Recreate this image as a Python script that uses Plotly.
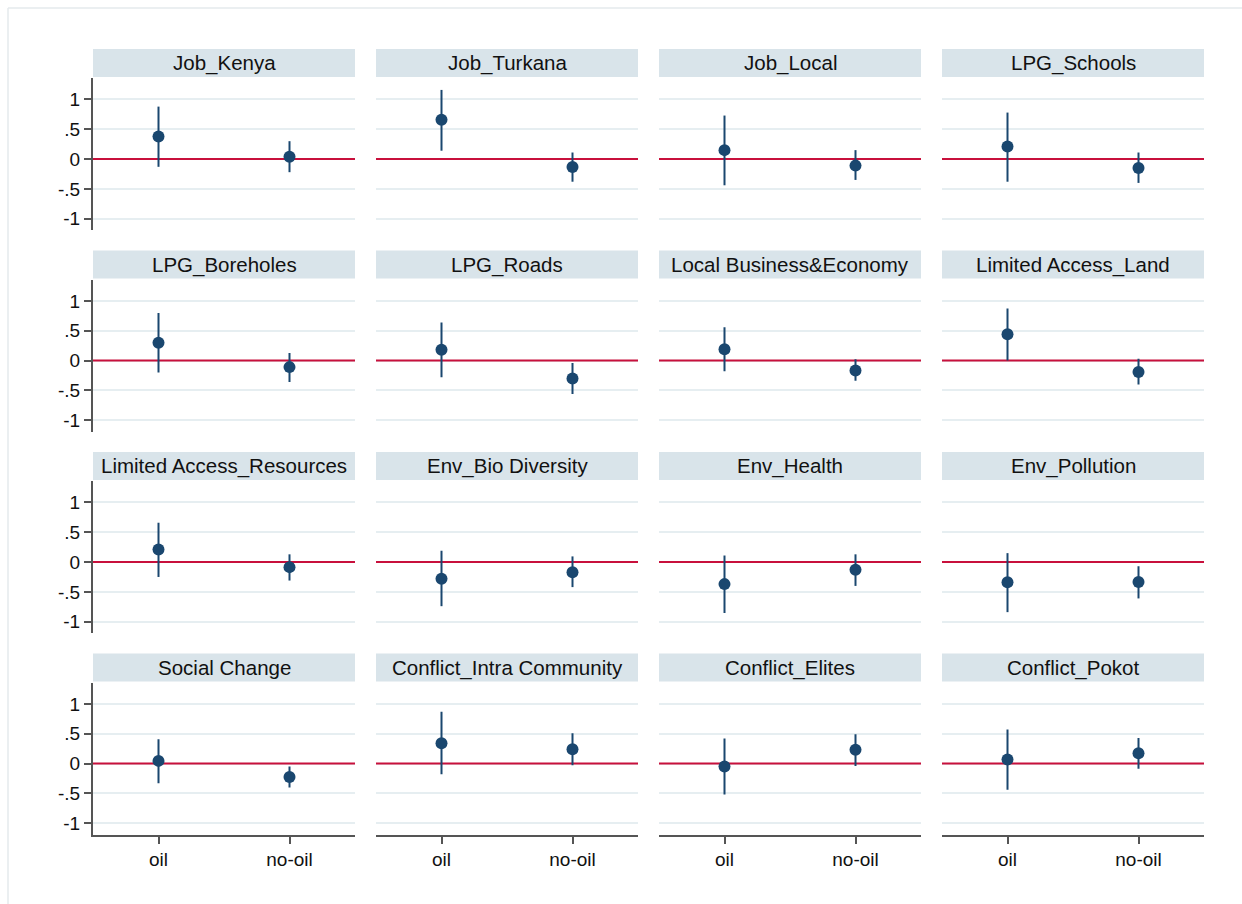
import plotly.graph_objects as go

# Panel titles, in row-major order (4 x 4 grid)
panels = [
    "Job_Kenya", "Job_Turkana", "Job_Local", "LPG_Schools",
    "LPG_Boreholes", "LPG_Roads", "Local Business&Economy", "Limited Access_Land",
    "Limited Access_Resources", "Env_Bio Diversity", "Env_Health", "Env_Pollution",
    "Social Change", "Conflict_Intra Community", "Conflict_Elites", "Conflict_Pokot",
]

groups = ["oil", "no-oil"]

# Point estimates and 95% confidence bounds: oil group
oil_est = [0.38, 0.66, 0.15, 0.21,
           0.30, 0.18, 0.19, 0.44,
           0.21, -0.28, -0.37, -0.34,
           0.045, 0.34, -0.05, 0.07]
oil_lo = [-0.13, 0.14, -0.44, -0.38,
          -0.20, -0.28, -0.18, 0.00,
          -0.25, -0.74, -0.855, -0.84,
          -0.33, -0.18, -0.52, -0.44]
oil_hi = [0.88, 1.16, 0.73, 0.78,
          0.80, 0.64, 0.56, 0.875,
          0.66, 0.19, 0.11, 0.15,
          0.41, 0.87, 0.42, 0.57]

# Point estimates and 95% confidence bounds: no-oil group
nooil_est = [0.04, -0.135, -0.11, -0.15,
             -0.11, -0.30, -0.165, -0.19,
             -0.085, -0.17, -0.13, -0.335,
             -0.225, 0.24, 0.23, 0.175]
nooil_lo = [-0.22, -0.38, -0.35, -0.40,
            -0.36, -0.56, -0.34, -0.40,
            -0.31, -0.42, -0.40, -0.61,
            -0.40, -0.03, -0.04, -0.085]
nooil_hi = [0.30, 0.11, 0.15, 0.11,
            0.125, -0.04, 0.02, 0.03,
            0.13, 0.095, 0.13, -0.07,
            -0.05, 0.51, 0.49, 0.43]

ytick_vals = [-1, -0.5, 0, 0.5, 1]
ytick_text = ["-1", "-.5", "0", ".5", "1"]
x_range = [0.5, 2.5]

W, H = 1242, 904
NAVY = "#1a476f"
RED = "#c8103c"
GRID = "#e6eef1"
STRIP = "#d9e4ea"
AXIS = "#555555"
TEXT = "#111111"
FONT = "Liberation Sans, Arial, sans-serif"

# Pixel geometry of the grid
col_left0, col_w, col_step = 93, 262, 283
row_top0, row_h, row_step = 78, 152, 201.5
strip_h = 28

fig = go.Figure()
layout = dict(
    width=W, height=H,
    margin=dict(l=0, r=0, t=0, b=0),
    paper_bgcolor="white", plot_bgcolor="white",
    showlegend=False,
    font=dict(family=FONT, color=TEXT),
)
shapes = []
annotations = []

for i, name in enumerate(panels):
    r, c = divmod(i, 4)
    k = i + 1
    xa = "x" if k == 1 else f"x{k}"
    ya = "y" if k == 1 else f"y{k}"
    xl = "xaxis" if k == 1 else f"xaxis{k}"
    yl = "yaxis" if k == 1 else f"yaxis{k}"

    x0 = col_left0 + c * col_step
    x1 = x0 + col_w
    top = row_top0 + r * row_step
    bot = top + row_h

    est = [oil_est[i], nooil_est[i]]
    lo = [oil_lo[i], nooil_lo[i]]
    hi = [oil_hi[i], nooil_hi[i]]

    # reference line at zero, spanning the full panel width
    fig.add_trace(go.Scatter(
        x=x_range, y=[0, 0], mode="lines", xaxis=xa, yaxis=ya,
        line=dict(color=RED, width=2), hoverinfo="skip",
    ))
    # estimates with confidence intervals
    fig.add_trace(go.Scatter(
        x=[1, 2], y=est, mode="markers", xaxis=xa, yaxis=ya,
        marker=dict(size=12, color=NAVY),
        error_y=dict(type="data", symmetric=False,
                     array=[h - e for h, e in zip(hi, est)],
                     arrayminus=[e - l for e, l in zip(est, lo)],
                     color=NAVY, thickness=2, width=0),
        hoverinfo="skip",
    ))

    bottom_row = r == 3
    left_col = c == 0

    layout[xl] = dict(
        domain=[x0 / W, x1 / W], anchor=ya, range=x_range,
        tickvals=[1, 2], ticktext=groups,
        showticklabels=bottom_row, ticks="outside" if bottom_row else "",
        ticklen=7, tickwidth=1.5, tickcolor=AXIS,
        showline=bottom_row, linecolor=AXIS, linewidth=2,
        showgrid=False, zeroline=False,
        tickfont=dict(size=19, family=FONT, color=TEXT),
    )
    layout[yl] = dict(
        domain=[1 - bot / H, 1 - top / H], anchor=xa, range=[-1.19, 1.36],
        tickvals=ytick_vals, ticktext=ytick_text,
        showticklabels=left_col, ticks="outside" if left_col else "",
        ticklen=7, tickwidth=1.5, tickcolor=AXIS,
        showline=left_col, linecolor=AXIS, linewidth=2,
        showgrid=True, gridcolor=GRID, gridwidth=2, zeroline=False,
        tickfont=dict(size=19, family=FONT, color=TEXT),
    )

    # title strip
    s_top = top - 1 - strip_h
    shapes.append(dict(type="rect", xref="paper", yref="paper",
                       x0=x0 / W, x1=x1 / W,
                       y0=1 - (top - 1) / H, y1=1 - s_top / H,
                       fillcolor=STRIP, line=dict(width=0), layer="below"))
    annotations.append(dict(text=name, xref="paper", yref="paper",
                            x=(x0 + x1) / 2 / W, y=1 - (s_top + strip_h / 2) / H,
                            xanchor="center", yanchor="middle", showarrow=False,
                            font=dict(size=20.5, family=FONT, color=TEXT)))

# faint outer frame of the graph region
shapes.append(dict(type="line", xref="paper", yref="paper",
                   x0=8 / W, x1=1, y0=1 - 8 / H, y1=1 - 8 / H,
                   line=dict(color="#e4eaec", width=1.5), layer="below"))
shapes.append(dict(type="line", xref="paper", yref="paper",
                   x0=8 / W, x1=8 / W, y0=0, y1=1 - 8 / H,
                   line=dict(color="#e4eaec", width=1.5), layer="below"))

layout["shapes"] = shapes
layout["annotations"] = annotations
fig.update_layout(**layout)
fig.write_html("out.html")
